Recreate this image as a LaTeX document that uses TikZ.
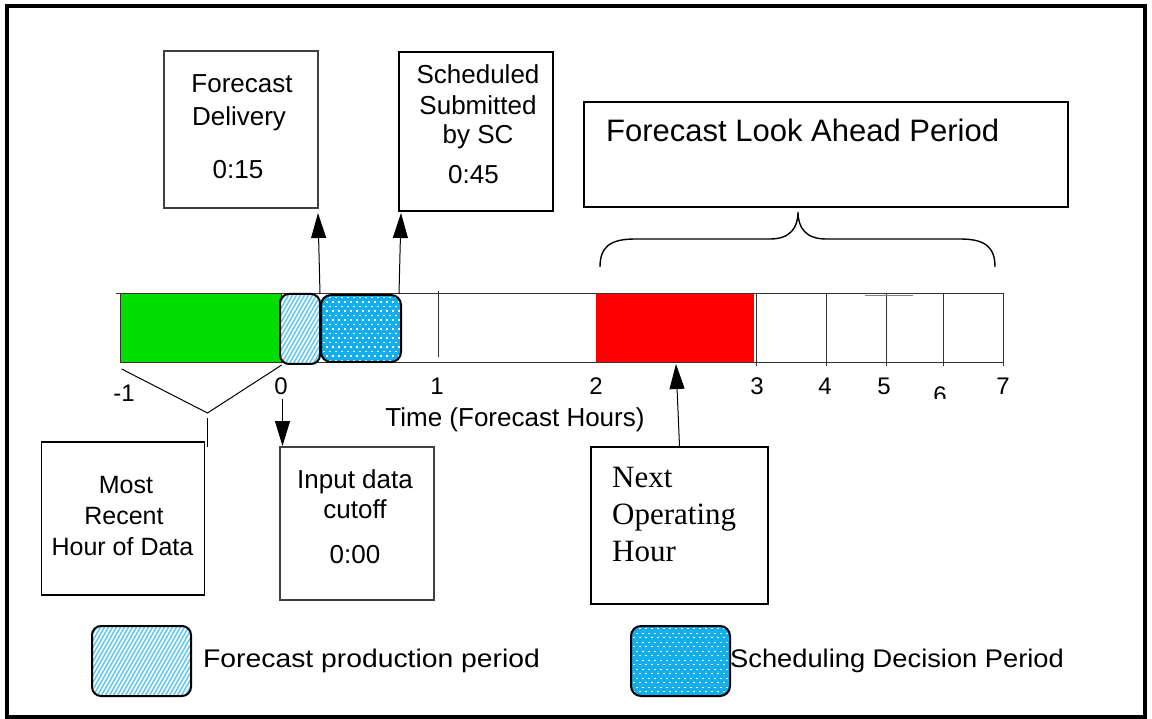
\documentclass[tikz,border=0pt]{standalone}
\usepackage{fontspec}
\setmainfont{Liberation Sans}
\newfontfamily\timesf{Liberation Serif}
\usetikzlibrary{arrows.meta}
\definecolor{gbar}{RGB}{0,221,0}
\definecolor{rbar}{RGB}{255,0,0}
\definecolor{dotblue}{RGB}{20,175,235}
\definecolor{hatchblue}{RGB}{95,200,240}
\newcommand{\blueDots}[4]{%
  \begin{scope}
    \clip[rounded corners=10pt] (#1,#2) rectangle (#3,#4);
    \fill[dotblue] (#1,#2) rectangle (#3,#4);
    \foreach \yy in {0,...,16} {
      \foreach \xx in {0,...,17} {
        \fill[white] ({#1+1.5+\xx*6+mod(\yy,2)*3},{#2+2+\yy*4.5}) rectangle +(2.6,1.4);
      }
    }
  \end{scope}
  \draw[line width=2pt, rounded corners=10pt] (#1,#2) rectangle (#3,#4);
}
\newcommand{\blueHatch}[4]{%
  \begin{scope}
    \clip[rounded corners=9pt] (#1,#2) rectangle (#3,#4);
    \fill[white] (#1,#2) rectangle (#3,#4);
    \foreach \xx in {-13,...,27} {
      \draw[hatchblue, line width=1.5pt] ({#1+\xx*4},{#4+2}) -- ++(48,-84);
    }
  \end{scope}
  \draw[line width=2pt, rounded corners=9pt] (#1,#2) rectangle (#3,#4);
}
\begin{document}
\begin{tikzpicture}[x=1pt,y=-1pt,
  box/.style={draw, line width=1.4pt, inner sep=0pt},
  lbl/.style={anchor=base, inner sep=0pt, font=\fontsize{26}{30}\selectfont},
  lblS/.style={anchor=base, inner sep=0pt, font=\fontsize{25}{30}\selectfont},
  dig/.style={anchor=base, inner sep=0pt, font=\fontsize{24}{28}\selectfont},
  serif/.style={anchor=base west, inner sep=0pt, font=\timesf\fontsize{31}{37}\selectfont},
  arr/.style={line width=1pt, -{Triangle[length=25pt,width=15pt]}},
  thin/.style={line width=1pt, draw=black!80}]
\useasboundingbox (0,0) rectangle (1152,719);
% outer frame
\draw[line width=4pt] (7,6) rectangle (1144.5,716.5);

% ---------- timeline bar ----------
\fill[gbar] (120,294) rectangle (281,363);
\draw[thin] (120,294) rectangle (281,363);
\fill[rbar] (596,294) rectangle (754,363);
\coordinate (barL) at (281,294);
\coordinate (barR) at (1003,294);
\coordinate (barLb) at (281,363);
\coordinate (barRb) at (1003,363);
\draw[thin] (barL) -- (barR);
\draw[thin] (barLb) -- (barRb);
\draw[thin] (116,294) -- (120,294);
\draw[thin] (438,291) -- (438,357);
\foreach \vx in {756,826,886,943,1003} {\draw[thin] (\vx,293) -- (\vx,366);}
\draw[line width=1pt, gray] (865,296) -- (913,296);

\blueHatch{280}{294}{320}{364}
\blueDots{321}{295}{401}{362}

% ---------- axis labels ----------
\node[dig] (tm1) at (124,401.5) {-1};
\node[dig] (t0) at (281,395) {0};
\node[dig] (t1) at (437,395) {1};
\node[dig] (t2) at (596,394.5) {2};
\node[dig] (t3) at (757,395) {3};
\node[dig] (t4) at (825,395) {4};
\node[dig] (t5) at (884,395) {5};
\begin{scope}
  \clip (920,370) rectangle (962,399);
  \node[dig] (t6) at (940,404) {6};
\end{scope}
\node[dig] (t7) at (1003,395) {7};
\node[lbl] (tlab) at (515,427) {Time (Forecast Hours)};

% ---------- top boxes ----------
\node[box, draw=black!75, minimum width=154pt, minimum height=157pt] (fd) at (241,129.5) {};
\node[lbl] (fd1) at (242,93) {Forecast};
\node[lbl] (fd2) at (239,126) {Delivery};
\node[lbl] (fd3) at (238,179) {0:15};

\node[box, minimum width=154pt, minimum height=159pt] (ss) at (476,131.5) {};
\node[lbl] (ss1) at (478,84) {Scheduled};
\node[lbl] (ss2) at (478,115) {Submitted};
\node[lbl] (ss3) at (478,144) {by SC};
\node[lbl] (ss4) at (473.5,184) {0:45};

\node[box, line width=2pt, minimum width=484pt, minimum height=105pt] (la) at (826,154.5) {};
\node[anchor=base west, inner sep=0pt, font=\fontsize{31}{36}\selectfont] (la1) at (606,142) {Forecast Look Ahead Period};

% brace
\draw[line width=1.4pt] (600,267) .. controls (600,247) and (610,239) .. (635,239)
  -- (770,239) .. controls (790,239) and (798,228) .. (798,212)
  .. controls (798,228) and (806,239) .. (826,239)
  -- (960,239) .. controls (985,239) and (995,247) .. (995,267);

% arrows up
\coordinate (fdtail) at (320,294);
\coordinate (fdtip) at (318,213);
\coordinate (sstail) at (399,294);
\coordinate (sstip) at (401,213);
\draw[arr] (fdtail) -- (fdtip);
\draw[arr] (sstail) -- (sstip);

% ---------- bottom boxes ----------
\node[box, minimum width=163pt, minimum height=153pt] (mr) at (123,518.5) {};
\node[lblS] (mr1) at (126,493) {Most};
\node[lblS] (mr2) at (124,524) {Recent};
\node[lblS] (mr3) at (122.5,555) {Hour of Data};

\coordinate (vl) at (121.7,369);
\coordinate (vr) at (281.7,365);
\coordinate (vapex) at (207.5,413);
\coordinate (vtop) at (207,418);
\coordinate (vbot) at (207,447);
\draw[line width=1pt] (vl) -- (vapex) -- (vr);
\draw[line width=1pt] (vtop) -- (vbot);

\node[box, draw=black!75, minimum width=154pt, minimum height=153pt] (ic) at (357,523.5) {};
\node[lbl] (ic1) at (355,488) {Input data};
\node[lbl] (ic2) at (355,518) {cutoff};
\node[lbl] (ic3) at (355,563) {0:00};
\coordinate (ictail) at (282.5,399);
\coordinate (ictip) at (282.5,446);
\draw[arr] (ictail) -- (ictip);

\node[box, line width=2pt, minimum width=177pt, minimum height=157pt] (no) at (679.5,525.5) {};
\node[serif] (no1) at (612,487) {Next};
\node[serif] (no2) at (612,524) {Operating};
\node[serif] (no3) at (612,561) {Hour};
\coordinate (notip) at (676,364);
\draw[arr] (no.north) -- (notip);

% ---------- legend ----------
\blueHatch{92}{626}{191}{696}
\node[anchor=base west, inner sep=0pt, font=\fontsize{25.5}{30}\selectfont] (lg1) at (203,667) {\scalebox{1.11}[1]{Forecast production period}};
\blueDots{631}{626}{730}{696}
\node[anchor=base west, inner sep=0pt, font=\fontsize{25.5}{30}\selectfont] (lg2) at (730,667) {\scalebox{1.07}[1]{Scheduling Decision Period}};
\end{tikzpicture}
\end{document}
